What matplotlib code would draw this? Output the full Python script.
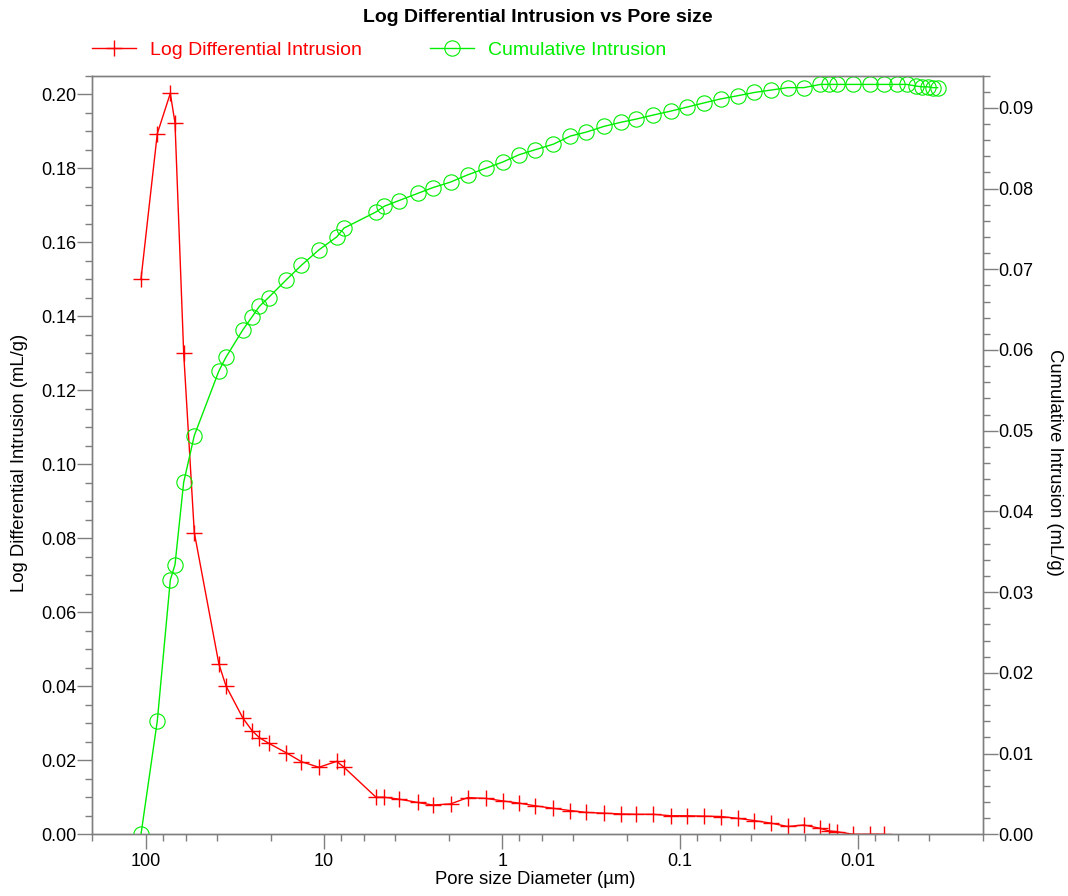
import matplotlib
matplotlib.use("Agg")
import matplotlib.pyplot as plt
from matplotlib.lines import Line2D
from matplotlib.ticker import LogLocator, FixedLocator, FuncFormatter, MultipleLocator, FormatStrFormatter

plt.rcParams['font.family'] = ['Liberation Sans', 'DejaVu Sans']

# pore size diameter (um), log differential intrusion (mL/g)
diam_ldi = [106.8, 86.5, 73.1, 68.8, 61.5, 53.6, 39.0, 35.6, 28.6, 25.4,
            23.1, 20.5, 16.3, 13.4, 10.7, 8.50, 7.73, 5.11, 4.60, 3.81,
            2.98, 2.46, 1.95, 1.56, 1.24, 0.989, 0.801, 0.654, 0.515, 0.414,
            0.336, 0.268, 0.216, 0.177, 0.142, 0.1126, 0.0912, 0.0738, 0.0593, 0.0475,
            0.0384, 0.0309, 0.0249, 0.0202, 0.0163, 0.0146, 0.0132, 0.01066, 0.00854, 0.00714]
log_diff = [0.1500, 0.1893, 0.2002, 0.1922, 0.1301, 0.0815, 0.0460, 0.0401, 0.0314, 0.0280,
            0.0261, 0.0246, 0.0220, 0.0196, 0.0181, 0.0197, 0.0181, 0.0100, 0.0100, 0.0095,
            0.0086, 0.0079, 0.0082, 0.0099, 0.0097, 0.0090, 0.0084, 0.0077, 0.0070, 0.0064,
            0.0059, 0.0057, 0.0055, 0.0054, 0.0054, 0.0050, 0.0050, 0.0049, 0.0048, 0.0043,
            0.0037, 0.0030, 0.0021, 0.0025, 0.0016, 0.0009, 0.0007, 0.0, 0.0, 0.0]

# cumulative intrusion (mL/g) - has a few more points at the small end
diam_cum = diam_ldi + [0.00608, 0.00534, 0.00474, 0.00440, 0.00407, 0.00382, 0.00358]
cum_intr = [0.0, 0.01404, 0.0315, 0.0334, 0.0436, 0.0494, 0.0574, 0.0591, 0.0625, 0.0641,
            0.0654, 0.0665, 0.0687, 0.0705, 0.0724, 0.0740, 0.0751, 0.0771, 0.0778, 0.0785,
            0.0794, 0.0801, 0.0808, 0.0817, 0.0825, 0.0833, 0.0842, 0.0848, 0.0855, 0.0865,
            0.0870, 0.0877, 0.0882, 0.0886, 0.0891, 0.0896, 0.0901, 0.0906, 0.0911, 0.0915,
            0.0919, 0.0922, 0.0925, 0.0925, 0.0929, 0.0929, 0.0929, 0.0929, 0.0929, 0.0929,
            0.0929, 0.0929, 0.0927, 0.0926, 0.0926, 0.0925, 0.0925]

x_major = [100, 10, 1, 0.1, 0.01]

RED = '#ff0000'
GREEN = '#00ee00'
GREY = '#7f7f7f'
FS_TICK = 13
FS_LABEL = 13.3
FS_BIG = 14

fig = plt.figure(figsize=(10.68, 8.96), dpi=100)
ax = fig.add_axes([0.0866, 0.0689, 0.9201 - 0.0866, 0.9157 - 0.0689])
ax2 = ax.twinx()

ax.plot(diam_ldi, log_diff, color=RED, lw=1.0, marker='+', ms=11.5, mew=1.0)
ax2.plot(diam_cum, cum_intr, color=GREEN, lw=1.0, marker='o', ms=11, mfc='none', mew=0.8)

ax.set_xscale('log')
ax.set_xlim(200, 0.002)
ax.set_ylim(0, 0.205)
ax2.set_ylim(0, 0.094)

ax.xaxis.set_major_locator(FixedLocator(x_major))
ax.xaxis.set_major_formatter(FuncFormatter(lambda v, p: '{:g}'.format(v)))
ax.xaxis.set_minor_locator(LogLocator(base=10, subs=(2, 4, 6, 8), numticks=20))
ax.xaxis.set_minor_formatter(FuncFormatter(lambda v, p: ''))

ax.yaxis.set_major_locator(MultipleLocator(0.02))
ax.yaxis.set_minor_locator(MultipleLocator(0.005))
ax.yaxis.set_major_formatter(FormatStrFormatter('%.2f'))
ax2.yaxis.set_major_locator(MultipleLocator(0.01))
ax2.yaxis.set_minor_locator(MultipleLocator(0.002))
ax2.yaxis.set_major_formatter(FormatStrFormatter('%.2f'))

for a in (ax, ax2):
    for s in a.spines.values():
        s.set_color(GREY)
        s.set_linewidth(1.0)
    a.tick_params(which='major', length=10.5, width=1, color=GREY, labelsize=FS_TICK, pad=1)
    a.tick_params(which='minor', length=5, width=1, color=GREY)
ax.tick_params(axis='x', which='major', pad=3)

ax.set_xlabel('Pore size Diameter (µm)', fontsize=FS_LABEL)
ax.set_ylabel('Log Differential Intrusion (mL/g)', fontsize=FS_LABEL)
ax2.set_ylabel('Cumulative Intrusion (mL/g)', fontsize=FS_LABEL, rotation=270)
ax.xaxis.set_label_coords(0.497, -0.049)
ax.yaxis.set_label_coords(-0.072, 0.49)
ax2.yaxis.set_label_coords(1.0905, 0.49)

fig.text(0.5035, 1 - 17 / 896, 'Log Differential Intrusion vs Pore size',
         fontsize=FS_BIG, fontweight='bold', ha='center', va='center')

handles = [Line2D([], [], color=RED, lw=1.0, marker='+', ms=11.5, mew=1.0),
           Line2D([], [], color=GREEN, lw=1.0, marker='o', ms=11, mfc='none', mew=0.8)]
fig.legend(handles, ['Log Differential Intrusion', 'Cumulative Intrusion'],
           loc='center left', bbox_to_anchor=(92 / 1068, 1 - 50 / 896), ncol=2,
           frameon=False, fontsize=FS_BIG, handlelength=2.27, handletextpad=0.72,
           columnspacing=3.5, borderpad=0, borderaxespad=0, labelcolor='linecolor')

fig.savefig('out.png', dpi=100)
